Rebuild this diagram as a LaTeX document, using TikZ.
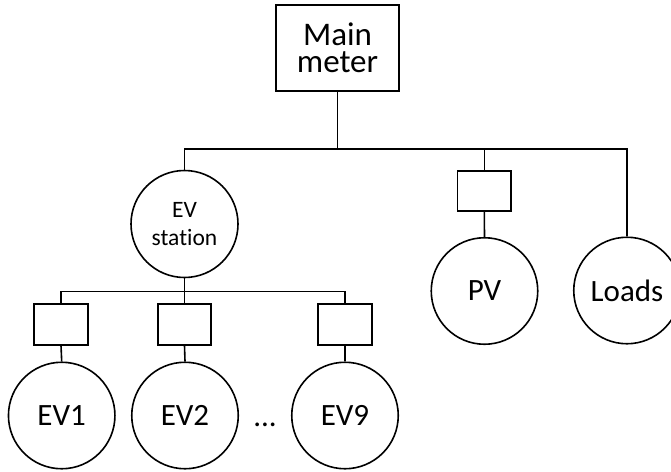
\documentclass[tikz,border=0pt]{standalone}
\usepackage{fontspec}
\setmainfont{Carlito}[Ligatures=NoCommon]
\begin{document}
\begin{tikzpicture}[x=1pt,y=-1pt,line width=1.6pt,line join=miter,
  big/.style={font=\fontsize{31}{37}\selectfont},
  meterbox/.style={draw,rectangle,inner sep=0pt,minimum width=53.5pt,minimum height=40.5pt},
  unit/.style={draw,circle,inner sep=0pt,minimum size=106.5pt,big}]
\useasboundingbox (0,0) rectangle (671,471);
% main meter
\node[draw,rectangle,inner sep=0pt,minimum width=123pt,minimum height=85.5pt,align=center,
  font=\fontsize{33}{27.5}\selectfont] (mm) at (337.5,48) {Main\\meter};
\coordinate (b1) at (184.5,149);
\coordinate (b2) at (627,149);
% first level
\node[draw,circle,inner sep=0pt,minimum size=107pt,align=center,
  font=\fontsize{23.5}{28.7}\selectfont] (evs) at (184.5,224) {EV\\station};
\node[meterbox] (pvbox) at (484.3,191) {};
\node[unit] (pv) at (484.5,291) {PV};
\node[unit] (loads) at (627,290.5) {Loads};
% connectors, first level
\draw (mm.south) -- (mm.south |- b1);
\draw (evs.north) -- (b1) -- (b2) -- (loads.north);
\draw (pvbox.north) -- (pvbox.north |- b1);
\draw (pvbox.south) -- (pv.north);
% EV level
\coordinate (e1) at (61,291.5);
\coordinate (e3) at (345,291.5);
\node[meterbox] (m1) at (61,324.5) {};
\node[meterbox] (m2) at (184.5,324.5) {};
\node[meterbox] (m3) at (345,324.5) {};
\node[unit] (ev1) at (61.7,415.5) {EV1};
\node[unit] (ev2) at (185,415.5) {EV2};
\node[unit] (ev9) at (345,415.5) {EV9};
\node[big,anchor=base,inner sep=0pt] (dots) at (265,426.7) {...};
\draw (m1.north) -- (e1) -- (e3) -- (m3.north);
\draw (evs.south) -- (m2.north);
\draw (m1.south) -- (ev1.north);
\draw (m2.south) -- (ev2.north);
\draw (m3.south) -- (ev9.north);
\end{tikzpicture}
\end{document}
